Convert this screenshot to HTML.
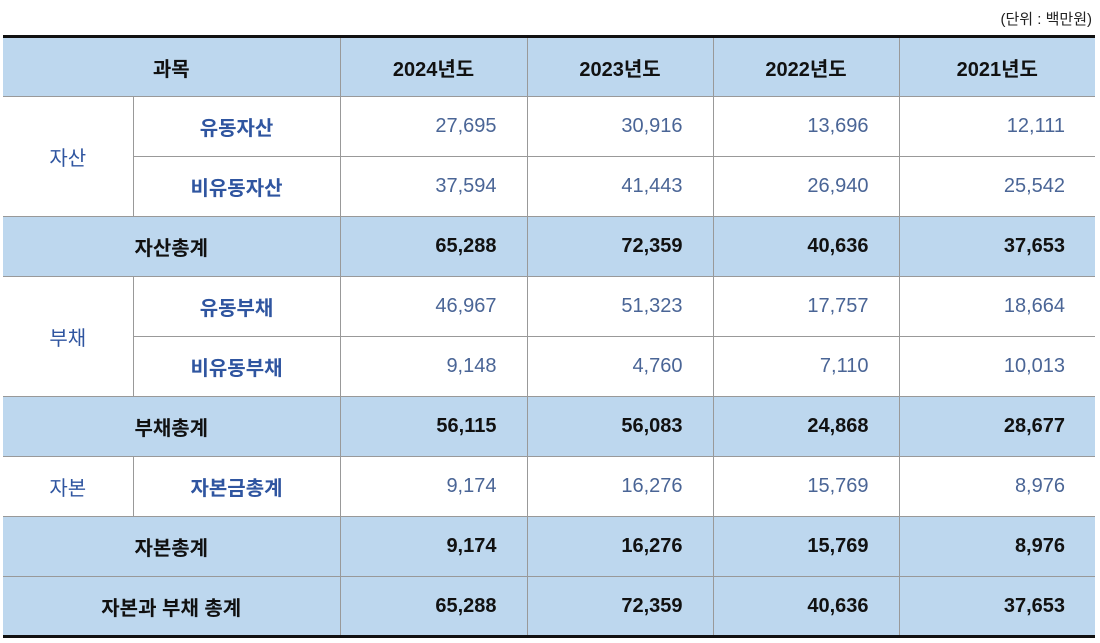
<!DOCTYPE html>
<html><head><meta charset="utf-8"><style>
body{margin:0;width:1100px;height:643px;background:#fff;font-family:"Liberation Sans","Noto Sans CJK KR",sans-serif;position:relative;overflow:hidden}
.unit{position:absolute;right:8px;top:8px;font-size:15px;color:#222}
table{position:absolute;left:3px;top:35px;border-collapse:collapse;width:1092px;table-layout:fixed;border-top:3px solid #111;border-bottom:3px solid #111}
td{height:60px;border:1px solid #999;font-size:20px;padding:0;box-sizing:border-box}
tr td:first-child{border-left:none}
tr td:last-child{border-right:none}
.h{background:#bdd7ee;font-weight:bold;color:#111;text-align:center}
.l{color:#2f55a0;text-align:center}
.lb{color:#2f55a0;text-align:center;font-weight:bold}
.n{color:#4a6596;text-align:right;padding-right:30px}
.sn{background:#bdd7ee;font-weight:bold;color:#111;text-align:right;padding-right:30px}
</style></head><body>
<div class="unit">(단위 : 백만원)</div>
<table>
<colgroup><col style="width:130px"><col style="width:207px"><col style="width:187px"><col style="width:186px"><col style="width:186px"><col style="width:196px"></colgroup>
<tr><td class="h" colspan="2">과목</td><td class="h">2024년도</td><td class="h">2023년도</td><td class="h">2022년도</td><td class="h">2021년도</td></tr>
<tr><td class="l" rowspan="2">자산</td><td class="lb">유동자산</td><td class="n">27,695</td><td class="n">30,916</td><td class="n">13,696</td><td class="n">12,111</td></tr>
<tr><td class="lb">비유동자산</td><td class="n">37,594</td><td class="n">41,443</td><td class="n">26,940</td><td class="n">25,542</td></tr>
<tr><td class="h" colspan="2">자산총계</td><td class="sn">65,288</td><td class="sn">72,359</td><td class="sn">40,636</td><td class="sn">37,653</td></tr>
<tr><td class="l" rowspan="2">부채</td><td class="lb">유동부채</td><td class="n">46,967</td><td class="n">51,323</td><td class="n">17,757</td><td class="n">18,664</td></tr>
<tr><td class="lb">비유동부채</td><td class="n">9,148</td><td class="n">4,760</td><td class="n">7,110</td><td class="n">10,013</td></tr>
<tr><td class="h" colspan="2">부채총계</td><td class="sn">56,115</td><td class="sn">56,083</td><td class="sn">24,868</td><td class="sn">28,677</td></tr>
<tr><td class="l">자본</td><td class="lb">자본금총계</td><td class="n">9,174</td><td class="n">16,276</td><td class="n">15,769</td><td class="n">8,976</td></tr>
<tr><td class="h" colspan="2">자본총계</td><td class="sn">9,174</td><td class="sn">16,276</td><td class="sn">15,769</td><td class="sn">8,976</td></tr>
<tr><td class="h" colspan="2">자본과 부채 총계</td><td class="sn">65,288</td><td class="sn">72,359</td><td class="sn">40,636</td><td class="sn">37,653</td></tr>
</table>
</body></html>
